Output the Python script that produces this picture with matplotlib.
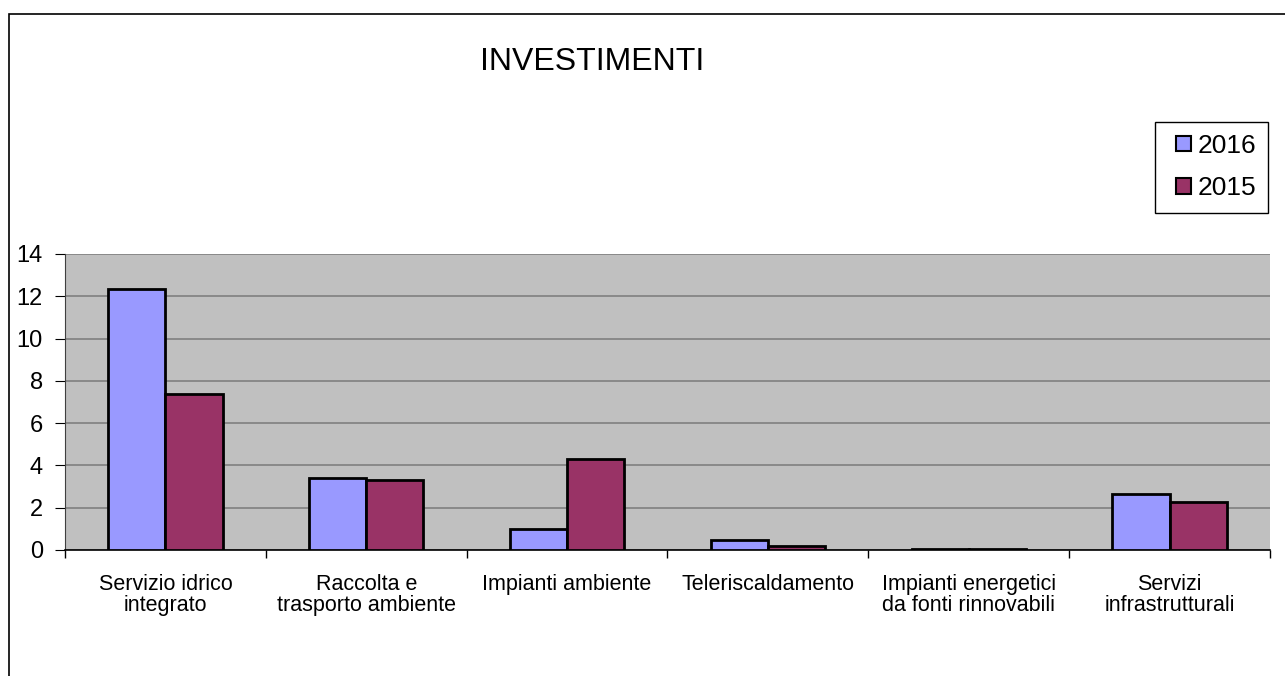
import numpy as np
import matplotlib.pyplot as plt
from matplotlib.patches import Rectangle, Patch

plt.rcParams['font.family'] = ['Liberation Sans', 'DejaVu Sans']

# Data
categories = ['Servizio idrico\nintegrato', 'Raccolta e\ntrasporto ambiente',
              'Impianti ambiente', 'Teleriscaldamento',
              'Impianti energetici\nda fonti rinnovabili', 'Servizi\ninfrastrutturali']
val_2016 = [12.35, 3.4, 0.98, 0.47, 0.03, 2.66]
val_2015 = [7.37, 3.33, 4.3, 0.19, 0.03, 2.27]
yticks = [0, 2, 4, 6, 8, 10, 12, 14]

col_2016 = '#9999FF'
col_2015 = '#993366'

W, H = 1285, 676
fig = plt.figure(figsize=(W / 100, H / 100), dpi=100)

# outer chart border (only top and left visible in the reference)
fig.patches.append(Rectangle((9 / W, -0.1), 1.2, (H - 14) / H + 0.1,
                             transform=fig.transFigure, fill=False,
                             edgecolor='black', linewidth=1.2))

ax = fig.add_axes([65 / W, 126 / H, 1205 / W, 296 / H])
ax.set_facecolor('#C0C0C0')

x = np.arange(len(categories))
w = 0.285
ax.bar(x - w / 2, val_2016, w, color=col_2016, edgecolor='black', linewidth=2, zorder=3)
ax.bar(x + w / 2, val_2015, w, color=col_2015, edgecolor='black', linewidth=2, zorder=3)

ax.set_xlim(-0.5, len(categories) - 0.5)
ax.set_ylim(0, 14)
ax.set_yticks(yticks)
ax.yaxis.grid(True, color='#808080', linewidth=1.2, zorder=0)
ax.set_axisbelow(True)

ax.set_xticks(x)
ax.set_xticklabels(categories, fontsize=15.5, linespacing=1.03)
ax.set_xticks(np.arange(len(categories) + 1) - 0.5, minor=True)
ax.tick_params(axis='x', which='major', length=0, pad=17)
ax.tick_params(axis='x', which='minor', length=6, direction='out', width=1)
ax.tick_params(axis='y', length=7, direction='out', labelsize=17, pad=9)

for s in ['top', 'right']:
    ax.spines[s].set_visible(False)
ax.spines['left'].set_color('#404040')
ax.spines['bottom'].set_linewidth(1.2)

fig.text(592 / W, 1 - 62 / H, 'INVESTIMENTI', fontsize=23, ha='center', va='center')

# legend frame drawn separately so the padding matches the reference
fig.patches.append(Rectangle((1155 / W, 1 - 213 / H), 113 / W, 91 / H,
                             transform=fig.transFigure, fill=False,
                             edgecolor='black', linewidth=1))
handles = [Patch(facecolor=col_2016, edgecolor='black', linewidth=1.5, label='2016'),
           Patch(facecolor=col_2015, edgecolor='black', linewidth=1.5, label='2015')]
leg = fig.legend(handles=handles, loc='upper right',
                 bbox_to_anchor=(1268 / W, 1 - 122 / H),
                 fontsize=19, frameon=False,
                 handlelength=0.55, handleheight=0.55, handletextpad=0.25,
                 labelspacing=0.7, borderpad=0.45, borderaxespad=0)

fig.savefig('out.png', dpi=100)
